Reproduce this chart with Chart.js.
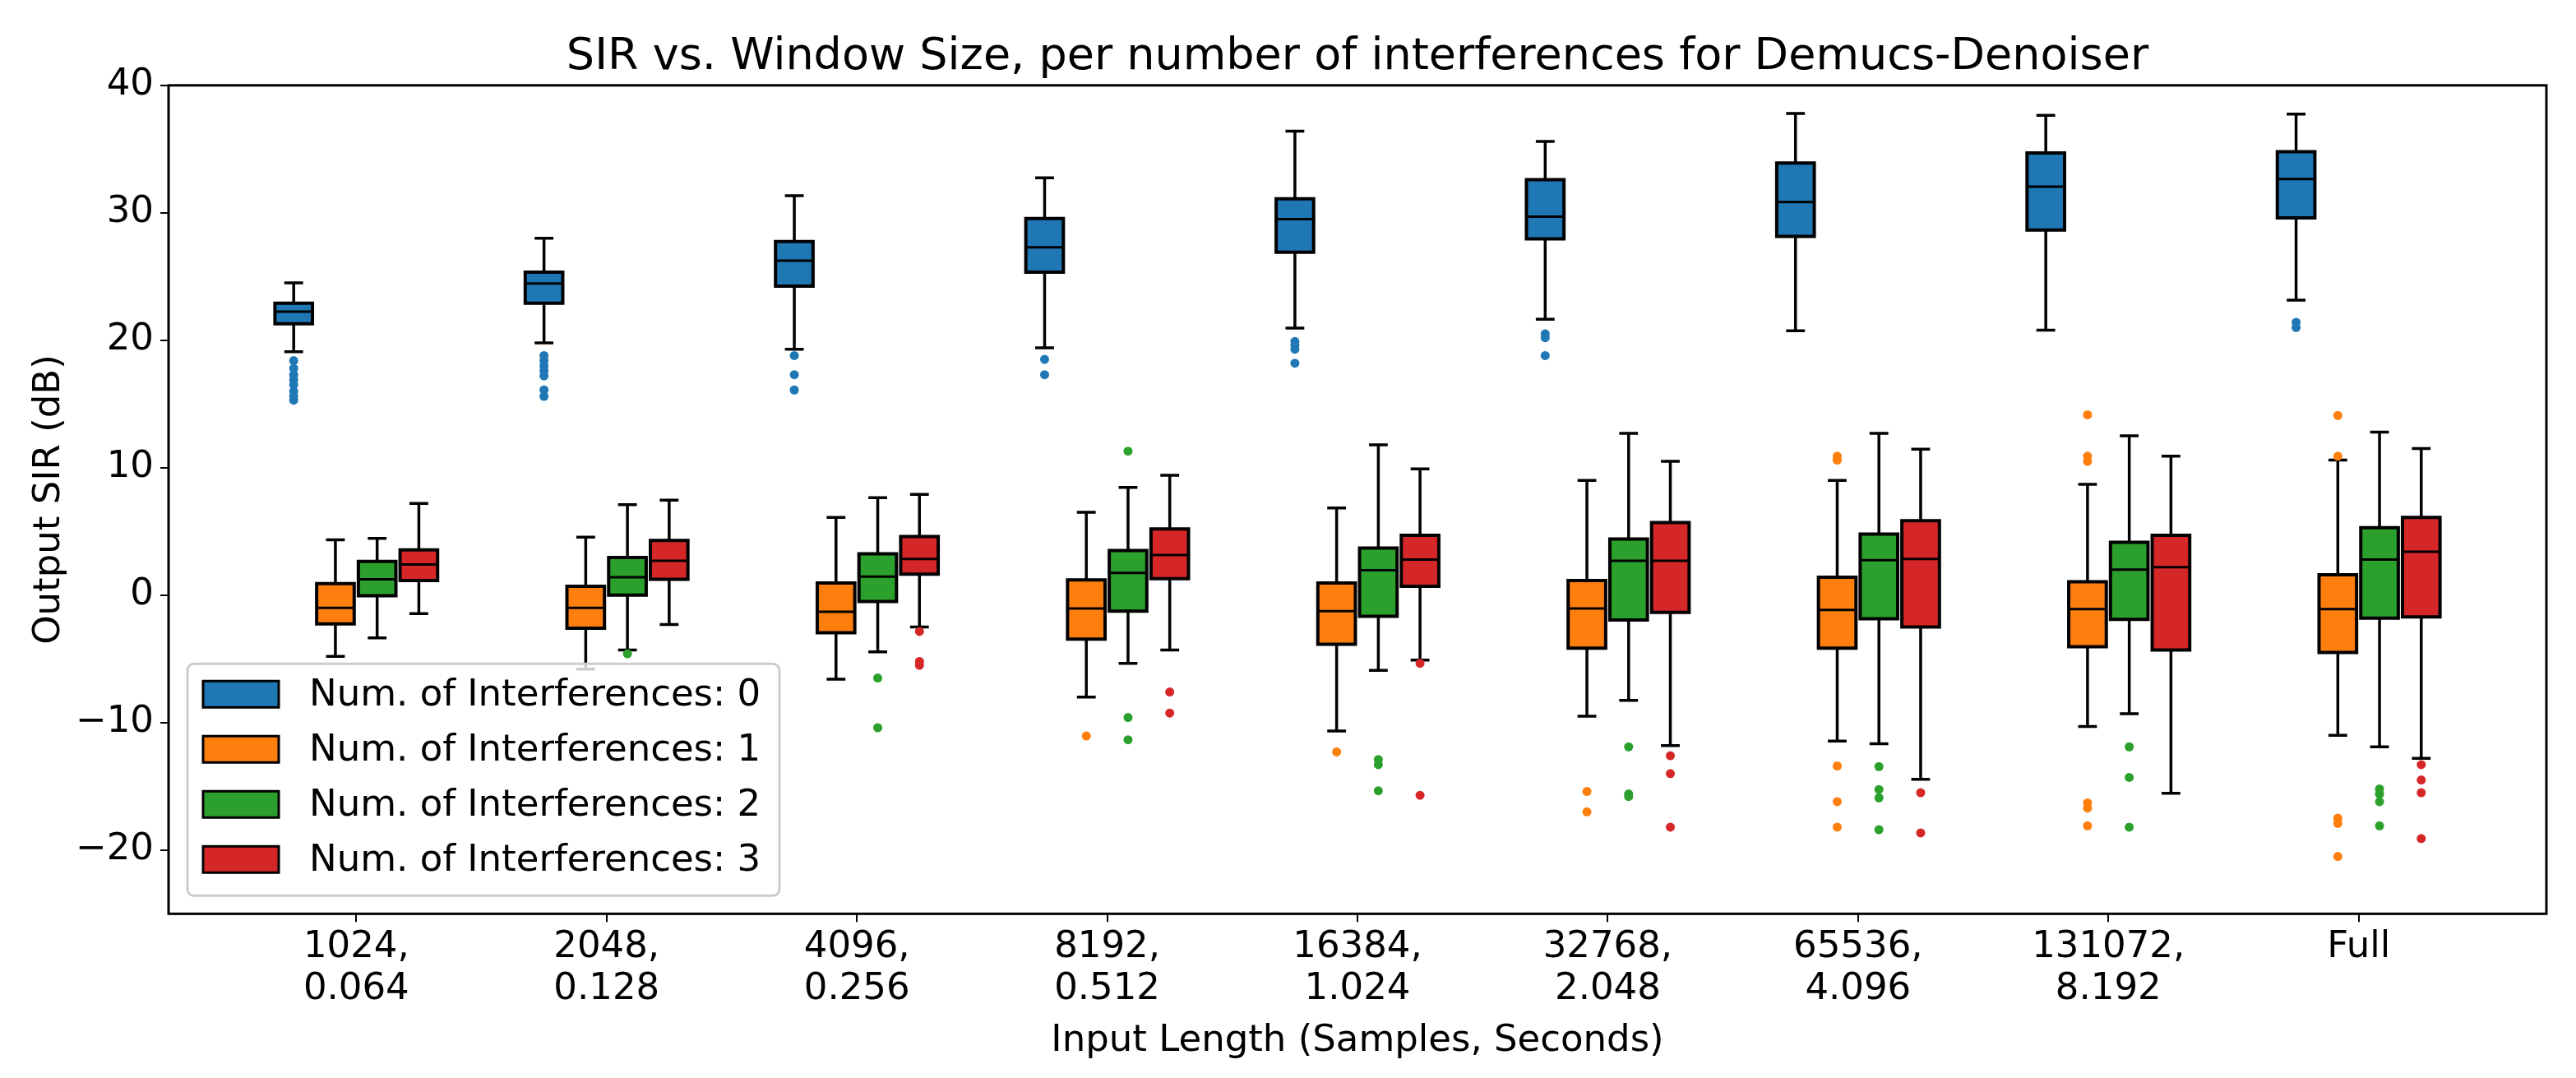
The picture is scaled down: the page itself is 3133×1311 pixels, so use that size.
<!DOCTYPE html>
<html>
<head>
<meta charset="utf-8">
<script src="https://cdn.jsdelivr.net/npm/chart.js@4.4.1/dist/chart.umd.min.js"></script>
<style>
    html, body { margin: 0; padding: 0; background: #fff; }
    #wrap { width: 3133px; height: 1311px; }
</style>
</head>
<body>
<div id="wrap"><canvas id="chart" width="3133" height="1311"></canvas></div>
<script>
// x categories (two-line tick labels)
const categories = [
    ['1024,', '0.064'], ['2048,', '0.128'], ['4096,', '0.256'],
    ['8192,', '0.512'], ['16384,', '1.024'], ['32768,', '2.048'],
    ['65536,', '4.096'], ['131072,', '8.192'], ['Full'],
];
const seriesNames = [
    'Num. of Interferences: 0',
    'Num. of Interferences: 1',
    'Num. of Interferences: 2',
    'Num. of Interferences: 3',
];
const seriesColors = ['#1f77b4', '#ff7f0e', '#2ca02c', '#d62728'];
const yTicks = [-20, -10, 0, 10, 20, 30, 40];

// per category: [lower whisker, q1, median, q3, upper whisker]
const box0 = [
    [19.1, 21.3, 22.25, 22.9, 24.5],
    [19.8, 22.9, 24.45, 25.35, 28.0],
    [19.3, 24.25, 26.25, 27.75, 31.35],
    [19.4, 25.35, 27.3, 29.55, 32.75],
    [20.95, 26.9, 29.5, 31.1, 36.4],
    [21.65, 27.95, 29.7, 32.6, 35.6],
    [20.75, 28.15, 30.85, 33.9, 37.8],
    [20.8, 28.65, 32.05, 34.7, 37.65],
    [23.15, 29.6, 32.65, 34.8, 37.75],
];
const box1 = [
    [-4.8, -2.25, -1.0, 0.9, 4.35],
    [-5.8, -2.6, -1.0, 0.7, 4.55],
    [-6.6, -2.95, -1.3, 0.95, 6.1],
    [-8.0, -3.45, -1.05, 1.2, 6.5],
    [-10.65, -3.85, -1.25, 0.95, 6.85],
    [-9.5, -4.15, -1.05, 1.15, 9.0],
    [-11.45, -4.15, -1.15, 1.4, 9.0],
    [-10.3, -4.05, -1.1, 1.05, 8.7],
    [-11.0, -4.5, -1.1, 1.6, 10.6],
];
const box2 = [
    [-3.35, -0.05, 1.25, 2.65, 4.45],
    [-4.3, 0.0, 1.4, 2.95, 7.1],
    [-4.45, -0.5, 1.45, 3.25, 7.65],
    [-5.35, -1.25, 1.75, 3.5, 8.45],
    [-5.9, -1.65, 1.95, 3.7, 11.8],
    [-8.25, -1.95, 2.7, 4.4, 12.7],
    [-11.65, -1.85, 2.75, 4.8, 12.7],
    [-9.3, -1.9, 2.0, 4.15, 12.5],
    [-11.9, -1.8, 2.8, 5.3, 12.8],
];
const box3 = [
    [-1.45, 1.15, 2.4, 3.55, 7.2],
    [-2.3, 1.25, 2.7, 4.3, 7.45],
    [-2.5, 1.65, 2.85, 4.6, 7.9],
    [-4.3, 1.3, 3.15, 5.2, 9.4],
    [-5.1, 0.7, 2.8, 4.7, 9.9],
    [-11.8, -1.35, 2.7, 5.7, 10.5],
    [-14.45, -2.5, 2.85, 5.85, 11.45],
    [-15.55, -4.3, 2.2, 4.7, 10.9],
    [-12.8, -1.7, 3.4, 6.1, 11.5],
];

// outliers per category
const fliers0 = [
    [18.4, 17.8, 17.3, 16.9, 16.5, 16.0, 15.6, 15.3],
    [18.8, 18.4, 18.0, 17.6, 17.2, 16.1, 15.6],
    [18.8, 17.3, 16.1],
    [18.5, 17.3],
    [19.9, 19.6, 19.3, 18.2],
    [20.5, 20.2, 18.8],
    [],
    [],
    [21.4, 21.0],
];
const fliers1 = [
    [], [], [],
    [-11.05],
    [-12.3],
    [-15.4, -17.0],
    [10.9, 10.6, -13.4, -16.2, -18.2],
    [14.15, 10.9, 10.5, -16.3, -16.7, -18.1],
    [14.1, 10.9, -17.5, -17.9, -20.5],
];
const fliers2 = [
    [],
    [-4.6],
    [-6.5, -10.4],
    [11.3, -9.6, -11.35],
    [-12.9, -13.3, -15.35],
    [-11.9, -15.6, -15.8],
    [-13.45, -15.25, -15.9, -18.4],
    [-11.9, -14.3, -18.2],
    [-15.2, -15.6, -16.2, -18.1],
];
const fliers3 = [
    [], [],
    [-2.85, -5.2, -5.5],
    [-7.6, -9.25],
    [-5.35, -15.7],
    [-12.6, -14.0, -18.2],
    [-15.5, -18.65],
    [],
    [-13.3, -14.5, -15.5, -19.1],
];

const boxes = [box0, box1, box2, box3];
const fliers = [fliers0, fliers1, fliers2, fliers3];

const BOX_W = 0.15;
const FONT = 'DejaVu Sans';
const offsetOf = (j) => (j - 1.5) / 6;

Chart.defaults.color = '#000';
Chart.defaults.font.family = FONT;

const datasets = fliers.map((f, j) => ({
    type: 'scatter',
    label: seriesNames[j],
    data: f.flatMap((vals, i) => vals.map((v) => ({ x: i + offsetOf(j), y: v }))),
    backgroundColor: seriesColors[j],
    borderWidth: 0,
    pointRadius: 5.5,
    pointHoverRadius: 5.5,
}));

const boxPlugin = {
    id: 'boxes',
    beforeDatasetsDraw(chart) {
        const { ctx, scales: { x, y } } = chart;
        const half = (x.getPixelForValue(BOX_W) - x.getPixelForValue(0)) / 2;
        const cap = half / 2;

        ctx.save();
        ctx.strokeStyle = '#000';
        boxes.forEach((rows, j) => {
            rows.forEach(([lo, q1, med, q3, hi], i) => {
                const cx = x.getPixelForValue(i + offsetOf(j));
                const yLo = y.getPixelForValue(lo);
                const yQ1 = y.getPixelForValue(q1);
                const yMed = y.getPixelForValue(med);
                const yQ3 = y.getPixelForValue(q3);
                const yHi = y.getPixelForValue(hi);

                // whiskers + caps
                ctx.lineWidth = 3.5;
                ctx.beginPath();
                ctx.moveTo(cx, yQ1);
                ctx.lineTo(cx, yLo);
                ctx.moveTo(cx, yQ3);
                ctx.lineTo(cx, yHi);
                ctx.moveTo(cx - cap, yLo);
                ctx.lineTo(cx + cap, yLo);
                ctx.moveTo(cx - cap, yHi);
                ctx.lineTo(cx + cap, yHi);
                ctx.stroke();

                // box
                ctx.fillStyle = seriesColors[j];
                ctx.lineWidth = 4;
                ctx.beginPath();
                ctx.rect(cx - half, yQ3, half * 2, yQ1 - yQ3);
                ctx.fill();
                ctx.stroke();

                // median
                ctx.lineWidth = 3;
                ctx.beginPath();
                ctx.moveTo(cx - half, yMed);
                ctx.lineTo(cx + half, yMed);
                ctx.stroke();
            });
        });
        ctx.restore();
    },
    afterDatasetsDraw(chart) {
        const { ctx, chartArea: a } = chart;
        ctx.save();
        ctx.strokeStyle = '#000';
        ctx.lineWidth = 3;
        ctx.strokeRect(a.left, a.top, a.right - a.left, a.bottom - a.top);
        ctx.restore();
    },
};

const legendPlugin = {
    id: 'boxLegend',
    afterDraw(chart) {
        const { ctx, chartArea: a } = chart;
        const left = a.left + 23;
        const top = a.bottom - 304;
        const w = 720;
        const h = 282;

        ctx.save();
        ctx.fillStyle = 'rgba(255, 255, 255, 0.8)';
        ctx.strokeStyle = '#cccccc';
        ctx.lineWidth = 3;
        ctx.beginPath();
        ctx.roundRect(left, top, w, h, 8);
        ctx.fill();
        ctx.stroke();

        ctx.font = `45px "${FONT}"`;
        ctx.textBaseline = 'middle';
        ctx.textAlign = 'left';
        seriesNames.forEach((name, j) => {
            const cy = top + 37 + 67 * j;
            ctx.fillStyle = seriesColors[j];
            ctx.strokeStyle = '#000';
            ctx.lineWidth = 3;
            ctx.beginPath();
            ctx.rect(left + 19, cy - 16, 92, 32);
            ctx.fill();
            ctx.stroke();
            ctx.fillStyle = '#000';
            ctx.fillText(name, left + 148, cy + 2);
        });
        ctx.restore();
    },
};

new Chart(document.getElementById('chart'), {
    type: 'scatter',
    data: { datasets },
    plugins: [boxPlugin, legendPlugin],
    options: {
        responsive: false,
        devicePixelRatio: 1,
        animation: false,
        layout: {
            padding: { top: 0, right: 36, bottom: 8, left: 0 },
        },
        plugins: {
            legend: { display: false },
            tooltip: { enabled: false },
            title: {
                display: true,
                text: 'SIR vs. Window Size, per number of interferences for Demucs-Denoiser',
                fullSize: false,
                color: '#000',
                font: { family: FONT, size: 54, weight: 'normal' },
                padding: { top: 38, bottom: 1 },
            },
        },
        scales: {
            x: {
                type: 'linear',
                min: -0.75,
                max: 8.75,
                afterBuildTicks: (scale) => {
                    scale.ticks = categories.map((_, i) => ({ value: i }));
                },
                ticks: {
                    autoSkip: false,
                    maxRotation: 0,
                    color: '#000',
                    padding: 6,
                    font: { family: FONT, size: 45, lineHeight: 1.13 },
                    callback: (v) => categories[v],
                },
                grid: {
                    drawOnChartArea: false,
                    drawTicks: true,
                    tickLength: 10,
                    color: '#000',
                    lineWidth: 2,
                },
                border: { display: false },
                title: {
                    display: true,
                    text: 'Input Length (Samples, Seconds)',
                    color: '#000',
                    font: { family: FONT, size: 45 },
                    padding: { top: 4, bottom: 10 },
                },
            },
            y: {
                min: -25,
                max: 40,
                afterBuildTicks: (scale) => {
                    scale.ticks = yTicks.map((v) => ({ value: v }));
                },
                afterFit: (scale) => {
                    scale.width = 205;
                },
                ticks: {
                    color: '#000',
                    padding: 8,
                    font: { family: FONT, size: 45 },
                    callback: (v) => String(v).replace('-', '\u2212'),
                },
                grid: {
                    drawOnChartArea: false,
                    drawTicks: true,
                    tickLength: 10,
                    color: '#000',
                    lineWidth: 2,
                },
                border: { display: false },
                title: {
                    display: true,
                    text: 'Output SIR (dB)',
                    color: '#000',
                    font: { family: FONT, size: 45 },
                    padding: { top: 33, bottom: 0 },
                },
            },
        },
    },
});
</script>
</body>
</html>
